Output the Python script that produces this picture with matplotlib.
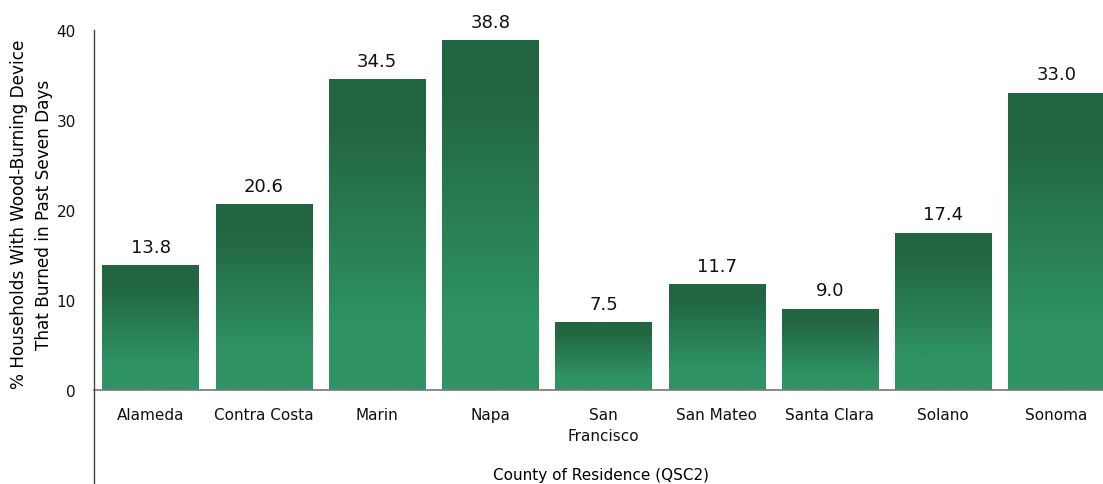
import numpy as np
import matplotlib.pyplot as plt
from matplotlib.colors import LinearSegmentedColormap
from matplotlib.lines import Line2D

counties = ['Alameda', 'Contra Costa', 'Marin', 'Napa', 'San\nFrancisco',
            'San Mateo', 'Santa Clara', 'Solano', 'Sonoma']
pct = [13.8, 20.6, 34.5, 38.8, 7.5, 11.7, 9.0, 17.4, 33.0]
yticks = [0, 10, 20, 30, 40]

dark = '#226641'
light = '#2f9363'
cmap = LinearSegmentedColormap.from_list('grn', [(0, light), (0.2, light), (0.85, dark), (1, dark)])

fig = plt.figure(figsize=(11.03, 4.85), dpi=100)
ax = fig.add_axes([94/1103, 94/485, (1113-94)/1103, 360/485])

x = np.arange(len(counties))
w = 0.85
grad = np.linspace(0, 1, 256).reshape(-1, 1)
bars = ax.bar(x, pct, width=w, color='none')
for xi, v in zip(x, pct):
    ax.imshow(grad, cmap=cmap, origin='lower', aspect='auto',
              extent=[xi - w/2, xi + w/2, 0, v], zorder=2)
    ax.text(xi, v + 1.1, f'{v:.1f}', ha='center', va='bottom', fontsize=13, color='#111111')

ax.set_xlim(-0.5, len(counties) - 0.5)
ax.set_ylim(0, 40)
ax.set_yticks(yticks)
ax.set_xticks(x)
ax.set_xticklabels(counties, fontsize=11, linespacing=1.5)
ax.tick_params(axis='both', length=0, labelsize=11, colors='#111111')
ax.tick_params(axis='x', pad=12)
ax.tick_params(axis='y', pad=13)
for s in ['top', 'right', 'left']:
    ax.spines[s].set_visible(False)
ax.spines['bottom'].set_color('#777777')
ax.spines['bottom'].set_linewidth(1.2)

# left axis line runs past the x axis down to the bottom edge
fig.add_artist(Line2D([94/1103, 94/1103], [0, 454/485], color='#444444', lw=1))

ax.set_ylabel('% Households With Wood-Burning Device\nThat Burned in Past Seven Days',
              fontsize=12.2, linespacing=1.5, va='center')
ax.yaxis.set_label_coords(-63/1019, 0.49)
fig.text(0.545, 0.005, 'County of Residence (QSC2)', ha='center', va='bottom', fontsize=11)

fig.savefig('out.png', dpi=100)
